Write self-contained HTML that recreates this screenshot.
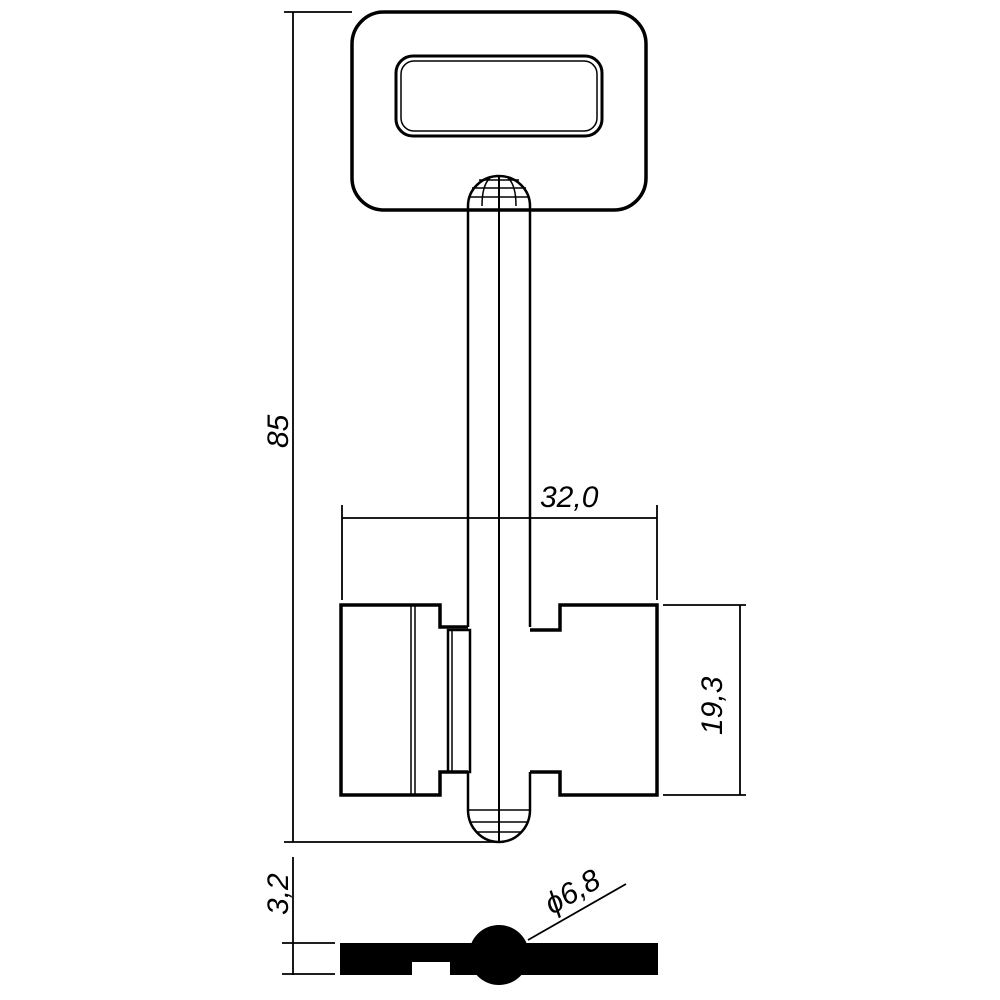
<!DOCTYPE html>
<html><head><meta charset="utf-8"><style>html,body{margin:0;background:#fff}svg{display:block}</style></head>
<body>
<svg width="1000" height="1000" viewBox="0 0 1000 1000" xmlns="http://www.w3.org/2000/svg" font-family="Liberation Sans, sans-serif">
<g fill="none" stroke="#000">
<!-- head -->
<rect x="352" y="12" width="294" height="198" rx="32" stroke-width="3.5"/>
<rect x="396" y="56" width="206" height="80" rx="17" stroke-width="3"/>
<rect x="401" y="61" width="196" height="70" rx="13" stroke-width="1.5"/>
<!-- shank -->
<path d="M468 206 L468 627 M468 772 L468 810 A31 32 0 0 0 530 810 L530 772 M530 627 L530 206" stroke-width="2.5"/>
<path d="M468 206 A31 30 0 0 1 530 206" stroke-width="2.5"/>
<line x1="499" y1="176" x2="499" y2="842" stroke-width="2"/>
<g stroke-width="1.5">
<line x1="472" y1="188" x2="526" y2="188"/><line x1="469" y1="197" x2="529" y2="197"/><line x1="479" y1="180" x2="519" y2="180"/>
<path d="M482 206 Q482 185 490 178 M516 206 Q516 185 508 178"/>
</g>
<g stroke-width="1.5">
<line x1="468" y1="810" x2="530" y2="810"/><line x1="470" y1="822" x2="528" y2="822"/><line x1="477" y1="832" x2="521" y2="832"/>
</g>
<!-- left bit -->
<path d="M468 627 L440 627 L440 605 L341 605 L341 795 L440 795 L440 772 L468 772" stroke-width="3.5"/>
<line x1="411" y1="605" x2="411" y2="795" stroke-width="1.5"/><line x1="415" y1="605" x2="415" y2="795" stroke-width="1.5"/>
<rect x="448" y="630" width="22" height="142" stroke-width="2.5"/>
<line x1="452" y1="630" x2="452" y2="772" stroke-width="1.5"/>
<!-- right bit -->
<path d="M530 630 L560 630 L560 605 L657 605 L657 795 L560 795 L560 772 L530 772" stroke-width="3.5"/>
<!-- dimensions -->
<g stroke-width="1.8">
<line x1="293" y1="12" x2="293" y2="842"/>
<line x1="284" y1="12" x2="352" y2="12"/>
<line x1="284" y1="842" x2="499" y2="842"/>
<line x1="342" y1="505" x2="342" y2="600"/>
<line x1="657" y1="505" x2="657" y2="600"/>
<line x1="342" y1="518" x2="657" y2="518"/>
<line x1="663" y1="605" x2="746" y2="605"/>
<line x1="663" y1="795" x2="746" y2="795"/>
<line x1="740" y1="605" x2="740" y2="795"/>
<line x1="293" y1="857" x2="293" y2="975"/>
<line x1="282" y1="943" x2="335" y2="943"/>
<line x1="282" y1="974" x2="335" y2="974"/>
<line x1="528" y1="940" x2="626" y2="884"/>
</g>
</g>
<!-- section -->
<path d="M340 943 L658 943 L658 975 L450 975 L450 962 L412 962 L412 975 L340 975 Z" fill="#000"/>
<circle cx="499" cy="955" r="30" fill="#000"/>
<g font-size="30" font-style="italic" fill="#000">
<text x="0" y="0" transform="translate(288 448) rotate(-90)">85</text>
<text x="540" y="507">32,0</text>
<text x="0" y="0" transform="translate(722 735) rotate(-90)">19,3</text>
<text x="0" y="0" transform="translate(288 915) rotate(-90)">3,2</text>
<text x="0" y="0" transform="translate(552 915) rotate(-30)">ϕ6,8</text>
</g>
</svg>
</body></html>
